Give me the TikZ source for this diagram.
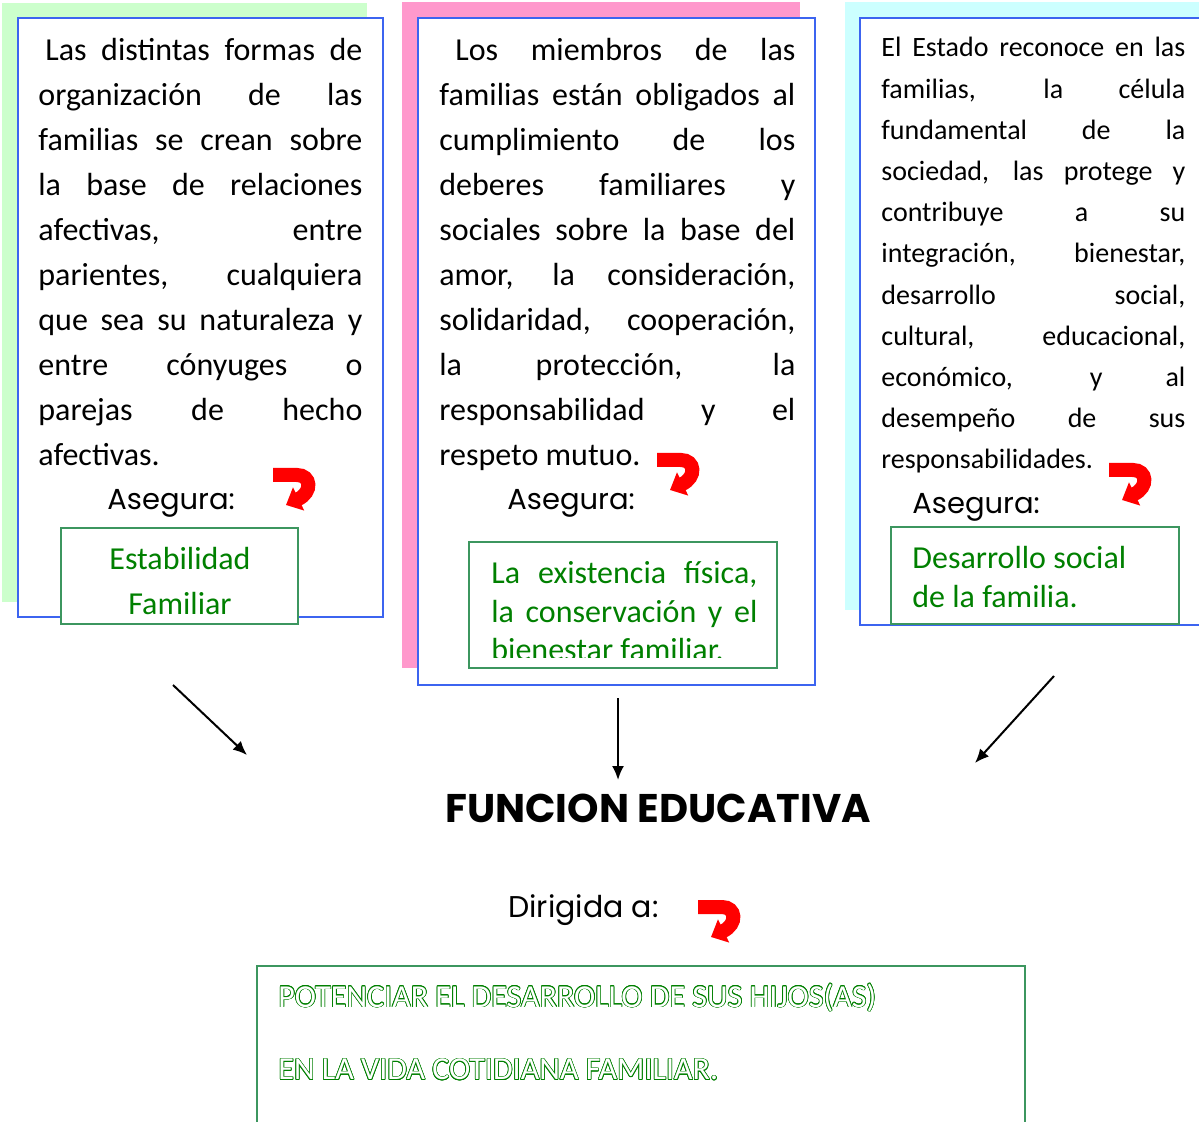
\documentclass[tikz,border=0pt]{standalone}
\usepackage{fontspec}
\setmainfont{Carlito}
\newfontfamily\comicfont{Poppins}
\usepackage{contour}
\contourlength{0.35pt}
\usetikzlibrary{arrows.meta}

\definecolor{bluebrd}{RGB}{60,100,240}
\definecolor{keybrd}{RGB}{60,150,95}
\definecolor{keygreen}{RGB}{0,128,0}
\definecolor{shadegreen}{RGB}{204,255,204}
\definecolor{shadepink}{RGB}{255,153,204}
\definecolor{shadecyan}{RGB}{204,255,255}
\definecolor{turnred}{RGB}{255,0,0}

\newcommand\justlines{\tolerance=10000\pretolerance=-1\hyphenpenalty=10000}
\newcommand\redturn[2]{%
  \begin{scope}[shift={(#1,#2)}]
    \draw[turnred, line width=7pt, -{Triangle[length=7pt,width=12.5pt]}]
      (0,7) -- (24,7) .. controls (38,7) and (40,24) .. (13,37);
  \end{scope}}

\tikzset{
  txtbox/.style={draw=bluebrd, fill=white, line width=1pt},
  keybox/.style={draw=keybrd, line width=1pt},
  bodytext/.style={anchor=base west, inner sep=0pt, align=justify,
    font=\fontsize{16}{22.5}\selectfont\justlines},
  sidetext/.style={anchor=base west, inner sep=0pt, align=justify,
    font=\fontsize{14}{20.6}\selectfont\justlines},
  asegura/.style={anchor=west, inner sep=0pt, font=\comicfont\fontsize{14.5}{18}\selectfont},
  keytext/.style={inner sep=0pt, text=keygreen},
  link/.style={-{Latex[length=7pt,width=6pt]}, line width=1pt}
}

\begin{document}
\begin{tikzpicture}[x=0.5pt,y=-0.5pt]
\useasboundingbox (0,0) rectangle (1199,1122);

% shaded backs
\fill[shadegreen] (2,3) rectangle (367,602);
\fill[shadepink] (402,2) rectangle (800,668);
\fill[shadecyan] (845,2) rectangle (1199,610);

% text boxes
\draw[txtbox] (18,18) rectangle (383,617);
\draw[txtbox] (418,18) rectangle (815,685);
\draw[txtbox] (860,18) rectangle (1210,625);

\node[bodytext, text width=162pt] (left) at (38,61) {\hspace*{3.5pt}Las distintas formas de\linebreak
  organización de las\linebreak
  familias se crean sobre\linebreak
  la base de relaciones\linebreak
  afectivas, entre\linebreak
  parientes, cualquiera\linebreak
  que sea su naturaleza y\linebreak
  entre cónyuges o\linebreak
  parejas de hecho\linebreak
  afectivas.};

\node[bodytext, text width=178pt] (mid) at (439,61) {\hspace*{8pt}Los miembros de las\linebreak
  familias están obligados al\linebreak
  cumplimiento de los\linebreak
  deberes familiares y\linebreak
  sociales sobre la base del\linebreak
  amor, la consideración,\linebreak
  solidaridad, cooperación,\linebreak
  la protección, la\linebreak
  responsabilidad y el\linebreak
  respeto mutuo.};

\node[sidetext, text width=152pt] (right) at (881,57) {El Estado reconoce en las\linebreak
  familias, la célula\linebreak
  fundamental de la\linebreak
  sociedad, las protege y\linebreak
  contribuye a su\linebreak
  integración, bienestar,\linebreak
  desarrollo social,\linebreak
  cultural, educacional,\linebreak
  económico, y al\linebreak
  desempeño de sus\linebreak
  responsabilidades.};

% asegura labels
\node[asegura] (aseg1) at (107,503) {Asegura:};
\node[asegura] (aseg2) at (507,503) {Asegura:};
\node[asegura] (aseg3) at (912,507) {Asegura:};

\redturn{273}{468}
\redturn{657}{453}
\redturn{1109}{463}

% key boxes
\draw[keybox, fill=white] (61,528) rectangle (298,624);
\node[keytext, align=center, anchor=base, font=\fontsize{16}{22}\selectfont] (key1) at (180,614)
  {Estabilidad\\Familiar};

\fill[white] (469,542) rectangle (777,668);
\begin{scope}
  \clip (469,542) rectangle (777,657);
  \node[keytext, anchor=base west, text width=133pt, align=justify,
    font=\fontsize{16}{19.5}\selectfont\justlines] (key2) at (491,583)
    {La existencia física,\linebreak la conservación y el\linebreak bienestar familiar.};
\end{scope}
\draw[keybox] (469,542) rectangle (777,668);

\draw[keybox, fill=white] (891,527) rectangle (1179,624);
\node[keytext, align=left, anchor=base west, font=\fontsize{16}{19.5}\selectfont] (key3) at (912,607)
  {Desarrollo social\\de la familia.};

% arrows to the centre
\coordinate (s1) at (173,685);
\coordinate (e1) at (247,755);
\coordinate (s2) at (618,698);
\coordinate (e2) at (618,780);
\coordinate (s3) at (1054,676);
\coordinate (e3) at (975,763);
\draw[link] (s1) -- (e1);
\draw[link] (s2) -- (e2);
\draw[link] (s3) -- (e3);

\node[inner sep=0pt, font=\comicfont\bfseries\fontsize{20}{24}\selectfont] (func) at (658,808) {FUNCION EDUCATIVA};
\node[inner sep=0pt, anchor=west, font=\comicfont\fontsize{15}{18}\selectfont] (dirig) at (508,910) {Dirigida a:};
\redturn{698}{900}

% goal box
\draw[keybox] (257,1125) -- (257,966) -- (1025,966) -- (1025,1125);
\node[inner sep=0pt, anchor=west, text=white, font=\fontsize{16}{19}\selectfont] (goal1) at (278,998)
  {\contour{keygreen}{POTENCIAR EL DESARROLLO DE SUS HIJOS(AS)}};
\node[inner sep=0pt, anchor=west, text=white, font=\fontsize{16}{19}\selectfont] (goal2) at (278,1070)
  {\contour{keygreen}{EN LA VIDA COTIDIANA FAMILIAR.}};
\end{tikzpicture}
\end{document}
